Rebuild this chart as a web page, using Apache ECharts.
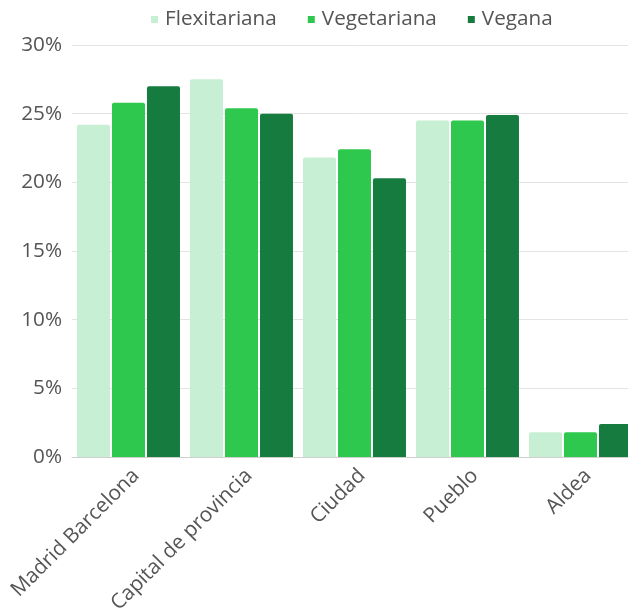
<!DOCTYPE html>
<html>
<head>
<meta charset="utf-8">
<script src="https://cdn.jsdelivr.net/npm/echarts@6/dist/echarts.min.js"></script>
<style>
  html, body { margin: 0; padding: 0; background: #fff; overflow: hidden; }
  /* the plot runs a little past the right edge of the window */
  #chart { width: 640px; height: 614px; }
</style>
</head>
<body>
<div id="chart"></div>
<script>
// Share of each diet type by size of place of residence (%)
const categories = ['Madrid Barcelona', 'Capital de provincia', 'Ciudad', 'Pueblo', 'Aldea'];
const flexitariana = [24.2, 27.5, 21.8, 24.5, 1.8];
const vegetariana = [25.8, 25.4, 22.4, 24.5, 1.8];
const vegana = [27.0, 25.0, 20.3, 24.9, 2.4];
const yTicks = [0, 5, 10, 15, 20, 25, 30];

const font = '"Open Sans", "DejaVu Sans", sans-serif';
const textColor = '#555555';
const textSize = 20.7;

const chart = echarts.init(document.getElementById('chart'), null, { renderer: 'canvas' });

function barSeries(name, data, color) {
  return {
    name: name,
    type: 'bar',
    data: data,
    barWidth: 33,
    barGap: '6%',
    itemStyle: { color: color, borderRadius: [2, 2, 0, 0] }
  };
}

chart.setOption({
  animation: false,
  textStyle: { fontFamily: font },
  legend: {
    left: 146,
    top: 4,
    icon: 'rect',
    itemWidth: 7,
    itemHeight: 7,
    itemGap: 31,
    textStyle: { fontFamily: font, fontSize: textSize, color: textColor, padding: [0, 0, 0, 2] },
    data: ['Flexitariana', 'Vegetariana', 'Vegana']
  },
  grid: { left: 72, right: 3, top: 45, bottom: 157, containLabel: false, outerBoundsMode: 'none' },
  xAxis: {
    type: 'category',
    data: categories,
    axisTick: { show: false },
    axisLine: { lineStyle: { color: '#cfcfcf', width: 1 } },
    axisLabel: {
      interval: 0,
      rotate: 45,
      margin: 8,
      verticalAlign: 'top',
      fontFamily: font,
      fontSize: textSize,
      color: textColor
    }
  },
  yAxis: {
    type: 'value',
    min: yTicks[0],
    max: yTicks[yTicks.length - 1],
    interval: 5,
    axisLine: { show: false },
    axisTick: { show: false },
    splitLine: { lineStyle: { color: '#e3e3e3', width: 1 } },
    axisLabel: {
      margin: 10,
      fontFamily: font,
      fontSize: textSize,
      color: textColor,
      formatter: v => v + '%'
    }
  },
  series: [
    barSeries('Flexitariana', flexitariana, '#c7efd3'),
    barSeries('Vegetariana', vegetariana, '#2ec84e'),
    barSeries('Vegana', vegana, '#167b3f')
  ]
});
</script>
</body>
</html>
